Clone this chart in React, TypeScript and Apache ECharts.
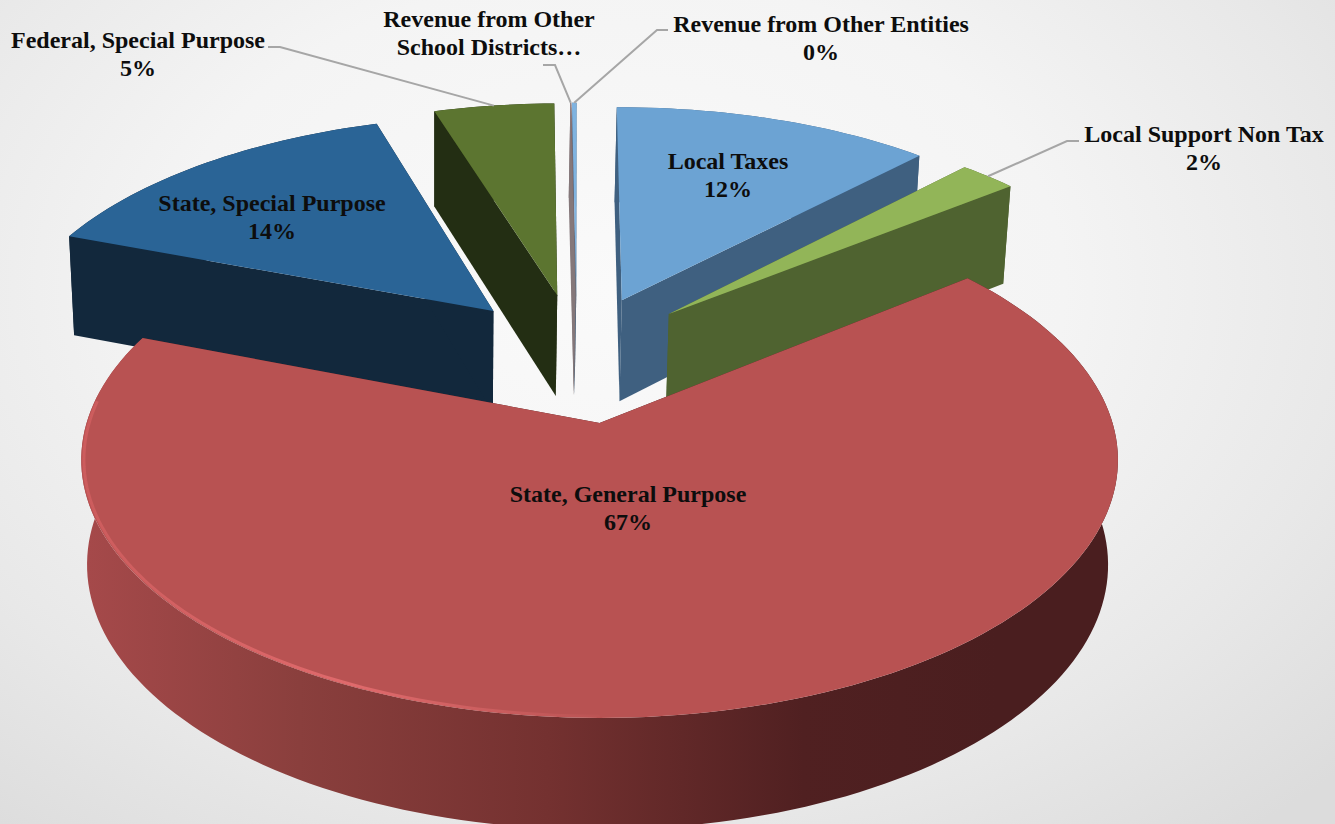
import React, { useEffect, useRef } from "react";
import * as echarts from "echarts";

// Revenue shares, in drawing order clockwise from twelve o'clock.
const categories = [
  "Local Taxes",
  "Local Support Non Tax",
  "State, General Purpose",
  "State, Special Purpose",
  "Federal, Special Purpose",
  "Revenue from Other\nSchool Districts…",
  "Revenue from Other Entities",
];
const shares = [12.2, 2.2, 66.6, 14.4, 4.6, 0.03, 0.18];
// The truncated data label of the school-district slice never reaches its percentage.
const showsPercent = [true, true, true, true, true, false, true];

const topColors = ["#6CA3D3", "#92B558", "#B85252", "#2A6496", "#5C7530", "#8A6A6A", "#7FB3E0"];
const wallColors = ["#3F6080", "#4F6330", "#4A1E1F", "#12283C", "#232E13", "#85787A", "#5A6B7E"];
const explode = [0.268, 0.276, 0.276, 0.276, 0.276, 0.276, 0.276];
const apexShiftX = [0.004, 0.006, 0.008, -0.001, -0.001, 0.001, 0.001];

// Label centres on the page, with the elbow of each leader line where one exists.
const labelCentres: [number, number][] = [
  [728, 175], [1204, 148], [628, 508], [272, 217], [138, 54], [489, 33], [821, 38],
];
const leaderElbows: ([number, number][] | null)[] = [
  null,
  [[1067, 141], [1079, 141]],
  null,
  null,
  [[280, 47], [268, 47]],
  [[555, 65], [543, 65]],
  [[657, 30], [668, 30]],
];

const WIDTH = 1335;
const HEIGHT = 824;
const ROTATION = -0.3;
const PIE_CENTRE = { x: -0.044, y: -0.273 };
const EXPLODE_X_SCALE = 0.91;

// Perspective camera: x right, y toward the viewer, z down through the pie's thickness.
function project(x: number, y: number, z: number): [number, number] {
  const w = 1 - 0.1435 * y + 0.015 * z;
  return [598 - 2 * z + (513 * x) / w, 423 + (252.7 * y + 106 * (1 - 0.04 * y) * z) / w];
}

const total = shares.reduce((a, b) => a + b, 0);

function sliceGeometry(i: number) {
  const before = shares.slice(0, i).reduce((a, b) => a + b, 0);
  const start = ROTATION + (before / total) * 360;
  const end = start + (shares[i] / total) * 360;
  const mid = ((start + end) / 2) * (Math.PI / 180);
  const apex = {
    x: PIE_CENTRE.x + EXPLODE_X_SCALE * explode[i] * Math.sin(mid) + apexShiftX[i],
    y: PIE_CENTRE.y - explode[i] * Math.cos(mid),
  };
  const rim = (deg: number, z: number, r = 1) => {
    const a = (deg * Math.PI) / 180;
    return project(apex.x + r * Math.sin(a), apex.y - r * Math.cos(a), z);
  };
  const arc = (from: number, to: number, z: number, r = 1) => {
    const steps = Math.max(2, Math.ceil(Math.abs(to - from) / 1.5));
    const pts: [number, number][] = [];
    for (let k = 0; k <= steps; k++) pts.push(rim(from + ((to - from) * k) / steps, z, r));
    return pts;
  };
  return { start, end, apex, rim, arc, midDeg: (start + end) / 2 };
}

// Farther slices are painted first so that nearer ones overlap them.
const paintOrder = categories
  .map((_, i) => i)
  .sort((a, b) => sliceGeometry(a).apex.y - sliceGeometry(b).apex.y);

const redWall = new echarts.graphic.LinearGradient(
  88, 0, 1110, 0,
  [
    { offset: 0, color: "#A5494A" },
    { offset: 0.207, color: "#8A3F3D" },
    { offset: 0.45, color: "#743130" },
    { offset: 0.7, color: "#502021" },
    { offset: 0.89, color: "#4A1E1F" },
    { offset: 1, color: "#4A1E1F" },
  ],
  true
);
const rimGlow = new echarts.graphic.LinearGradient(
  82, 0, 620, 0,
  [
    { offset: 0, color: "#CC5C5D" },
    { offset: 0.5, color: "#E06A6C" },
    { offset: 1, color: "rgba(224,106,108,0)" },
  ],
  true
);

function renderSlice(_params: any, api: any) {
  const i = api.value(0) as number;
  const g = sliceGeometry(i);
  const isMain = i === 2;
  const apexTop = project(g.apex.x, g.apex.y, 0);
  const apexBottom = project(g.apex.x, g.apex.y, 1);
  const wallFill = wallColors[i];
  const outer = [...g.arc(g.start, g.end, 0), ...g.arc(g.end, g.start, 1)];
  const wallA = [apexTop, g.rim(g.start, 0), g.rim(g.start, 1), apexBottom];
  const wallB = [apexTop, g.rim(g.end, 0), g.rim(g.end, 1), apexBottom];
  const top = [apexTop, ...g.arc(g.start, g.end, 0)];
  const children: any[] = [
    { type: "polygon", shape: { points: outer }, style: { fill: isMain ? redWall : wallFill } },
    { type: "polygon", shape: { points: wallA }, style: { fill: wallFill } },
    { type: "polygon", shape: { points: wallB }, style: { fill: wallFill } },
    { type: "polygon", shape: { points: top }, style: { fill: topColors[i] } },
  ];
  if (isMain) {
    children.push({
      type: "polyline",
      shape: { points: g.arc(180, 275, 0, 0.995) },
      style: { stroke: rimGlow, lineWidth: 3, fill: "none" },
    });
  }
  return { type: "group", children };
}

function renderLabel(_params: any, api: any) {
  const i = api.value(0) as number;
  const g = sliceGeometry(i);
  const [cx, cy] = labelCentres[i];
  const children: any[] = [];
  const elbow = leaderElbows[i];
  if (elbow) {
    children.push({
      type: "polyline",
      shape: { points: [g.rim(g.midDeg, 0), ...elbow] },
      style: { stroke: "#A6A6A6", lineWidth: 2, fill: "none" },
    });
  }
  children.push({
    type: "text",
    x: cx,
    y: cy,
    style: {
      text: showsPercent[i] ? `${categories[i]}\n${Math.round(shares[i])}%` : categories[i],
      fill: "#0D0D0D",
      font: 'bold 24px "Liberation Serif"',
      lineHeight: 28,
      align: "center",
      verticalAlign: "middle",
    },
  });
  return { type: "group", children };
}

export default function App() {
  const ref = useRef<HTMLDivElement>(null);
  useEffect(() => {
    document.body.style.margin = "0";
    const chart = echarts.init(ref.current!, undefined, { renderer: "svg" });
    chart.setOption({
      animation: false,
      series: [
        {
          type: "custom",
          coordinateSystem: "none",
          renderItem: renderSlice,
          silent: true,
          z: 2,
          data: paintOrder.map((i) => [i, shares[i]]),
        },
        {
          type: "custom",
          coordinateSystem: "none",
          renderItem: renderLabel,
          silent: true,
          z: 3,
          data: categories.map((_, i) => [i, shares[i]]),
        },
      ],
    });
    return () => chart.dispose();
  }, []);
  return (
    <div
      ref={ref}
      style={{
        position: "absolute",
        left: 0,
        top: 0,
        width: WIDTH,
        height: HEIGHT,
        background:
          "radial-gradient(ellipse 75% 85% at 46% 35%, #FAFAFA 0%, #F4F4F4 45%, #E8E8E8 75%, #DCDCDC 100%)",
      }}
    />
  );
}
